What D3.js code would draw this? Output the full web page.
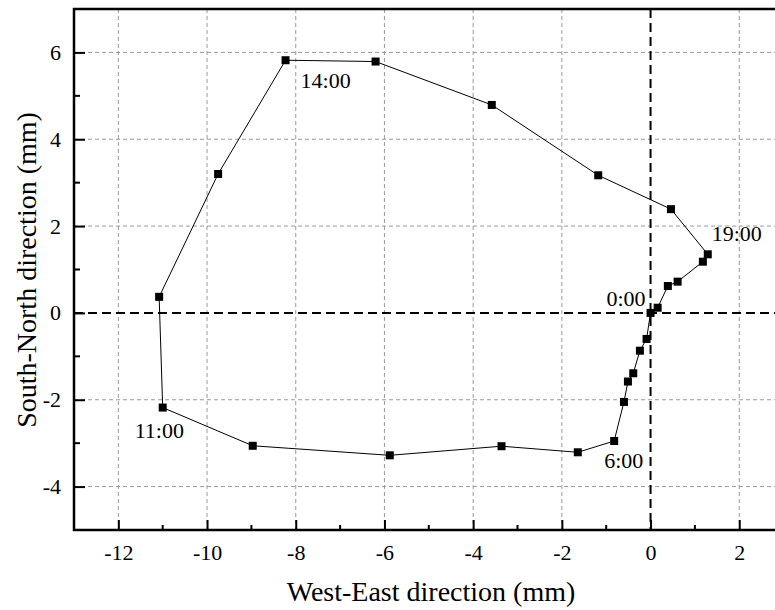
<!DOCTYPE html>
<html>
<head>
<meta charset="utf-8">
<script src="https://cdn.jsdelivr.net/npm/d3@7/dist/d3.min.js"></script>
<style>
  html, body { margin: 0; padding: 0; background: #fff; }
  svg { display: block; }
  svg text { font-family: "Liberation Serif", "Times New Roman", serif !important; fill: #000; }
</style>
</head>
<body>
<svg id="chart" width="775" height="610"></svg>
<script>
// Hourly displacement trace (mm)
const hours = ["0:00","1:00","2:00","3:00","4:00","5:00","6:00","7:00","8:00","9:00","10:00","11:00",
               "12:00","13:00","14:00","15:00","16:00","17:00","18:00","19:00","20:00","21:00","22:00","23:00","24:00"];
const westEast   = [0, -0.09, -0.24, -0.39, -0.51, -0.60, -0.82, -1.64, -3.36, -5.88, -8.97, -11.00,
                    -11.08, -9.75, -8.23, -6.20, -3.58, -1.18, 0.46, 1.29, 1.18, 0.61, 0.39, 0.16, 0];
const southNorth = [0, -0.60, -0.87, -1.39, -1.58, -2.05, -2.95, -3.21, -3.07, -3.28, -3.06, -2.18,
                    0.37, 3.20, 5.82, 5.79, 4.79, 3.17, 2.39, 1.35, 1.18, 0.72, 0.62, 0.12, 0];
const labelHours = ["0:00", "6:00", "11:00", "14:00", "19:00"];
const xTicks = [-12, -10, -8, -6, -4, -2, 0, 2];
const yTicks = [-4, -2, 0, 2, 4, 6];
const xMinor = d3.range(-13, 3, 1);
const yMinor = d3.range(-5, 8, 1);
const xTitle = "West-East direction (mm)";
const yTitle = "South-North direction (mm)";

(function () {
const svg = d3.select("#chart");
const mLeft = 74, mTop = 9, mBottom = 530;
const x = d3.scaleLinear().domain([-13, 3]).range([mLeft, mLeft + 16 * 44.35]);
const y = d3.scaleLinear().domain([-5, 7]).range([mBottom, mTop]);
const mRight = x(3);

const data = hours.map((h, i) => ({h, x: westEast[i], y: southNorth[i]}));

// grid
const grid = svg.append("g");
grid.selectAll("line.gx").data(xTicks.filter(d => d !== 0)).join("line")
  .attr("x1", d => x(d)).attr("x2", d => x(d)).attr("y1", mTop).attr("y2", mBottom)
  .attr("stroke", "#9a9a9a").attr("stroke-width", 1).attr("stroke-dasharray", "4,3");
grid.selectAll("line.gy").data(yTicks.filter(d => d !== 0)).join("line")
  .attr("x1", mLeft).attr("x2", mRight).attr("y1", d => y(d)).attr("y2", d => y(d))
  .attr("stroke", "#9a9a9a").attr("stroke-width", 1).attr("stroke-dasharray", "4,3");

// zero lines
svg.append("line").attr("x1", x(0)).attr("x2", x(0)).attr("y1", mTop).attr("y2", mBottom)
  .attr("stroke", "#000").attr("stroke-width", 2).attr("stroke-dasharray", "9,5");
svg.append("line").attr("x1", mLeft).attr("x2", mRight).attr("y1", y(0)).attr("y2", y(0))
  .attr("stroke", "#000").attr("stroke-width", 2).attr("stroke-dasharray", "9,5");

// axes
const fmt = d => d < 0 ? "-" + Math.abs(d) : String(d);
const xAxis = d3.axisBottom(x).tickValues(xTicks).tickSize(-10).tickPadding(14).tickFormat(fmt);
const gx = svg.append("g").attr("transform", `translate(0,${mBottom})`).call(xAxis);
const yAxis = d3.axisLeft(y).tickValues(yTicks).tickSize(-11).tickPadding(13).tickFormat(fmt);
const gy = svg.append("g").attr("transform", `translate(${mLeft},0)`).call(yAxis);
[gx, gy].forEach(g => {
  g.attr("font-family", "Liberation Serif").attr("font-size", 22);
  g.select(".domain").remove();
  g.selectAll(".tick line").attr("stroke", "#000").attr("stroke-width", 2);
  g.selectAll(".tick text").attr("fill", "#000");
});
// minor ticks
svg.append("g").selectAll("line").data(xMinor.filter(d => !xTicks.includes(d) && d > -13)).join("line")
  .attr("x1", d => x(d)).attr("x2", d => x(d)).attr("y1", mBottom).attr("y2", mBottom - 5)
  .attr("stroke", "#000").attr("stroke-width", 2);
svg.append("g").selectAll("line").data(yMinor.filter(d => !yTicks.includes(d) && d > -5 && d < 7)).join("line")
  .attr("x1", mLeft).attr("x2", mLeft + 6).attr("y1", d => y(d)).attr("y2", d => y(d))
  .attr("stroke", "#000").attr("stroke-width", 2);

// frame
svg.append("path")
  .attr("d", `M${mRight},${mTop}H${mLeft}V${mBottom}H${mRight}`)
  .attr("fill", "none").attr("stroke", "#000").attr("stroke-width", 2.5);

// line + markers
svg.append("path").datum(data)
  .attr("d", d3.line().x(d => x(d.x)).y(d => y(d.y)))
  .attr("fill", "none").attr("stroke", "#000").attr("stroke-width", 1);
svg.append("g").selectAll("rect").data(data.slice(0, 24)).join("rect")
  .attr("x", d => x(d.x) - 4).attr("y", d => y(d.y) - 4)
  .attr("width", 8).attr("height", 8).attr("fill", "#000");

// hour labels
const labelOffset = {"0:00": [-5, -7, "end"], "6:00": [-10, 27, "start"], "11:00": [-28, 30, "start"],
                     "14:00": [15, 28, "start"], "19:00": [4, -13, "start"]};
svg.append("g").selectAll("text").data(data.filter((d, i) => i < 24 && labelHours.includes(d.h))).join("text")
  .attr("x", d => x(d.x) + labelOffset[d.h][0])
  .attr("y", d => y(d.y) + labelOffset[d.h][1])
  .attr("text-anchor", d => labelOffset[d.h][2])
  .attr("font-size", 22)
  .text(d => d.h);

// titles
svg.append("text").attr("x", 431).attr("y", 601).attr("text-anchor", "middle")
  .attr("font-size", 28).text(xTitle);
svg.append("text").attr("transform", `translate(36,270)rotate(-90)`)
  .attr("text-anchor", "middle").attr("font-size", 28).text(yTitle);
})();
</script>
</body>
</html>
